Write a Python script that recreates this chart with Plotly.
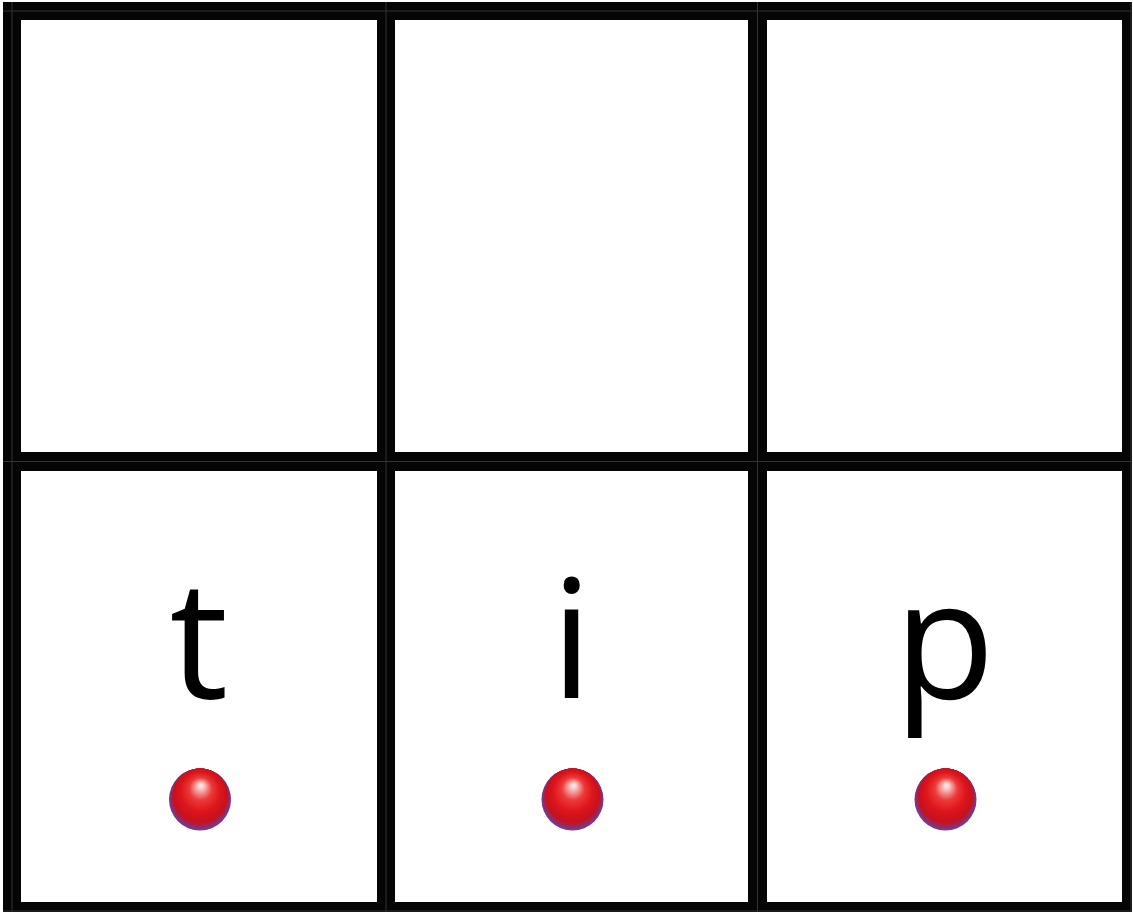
import plotly.graph_objects as go

# ---- data ----
rows = ["top", "bottom"]
columns = ["left", "middle", "right"]
letters_top = ["", "", ""]
letters_bottom = ["t", "i", "p"]
balls_top = [0, 0, 0]
balls_bottom = [1, 1, 1]

# ---- layout geometry (pixels) ----
W, H = 1133, 917
col_edges = [(21, 377), (395, 748), (767, 1122)]
row_edges = [(20, 452), (471, 902)]
v_bars = [(3, 21), (377, 395), (748, 767), (1122, 1132)]
h_bars = [(2, 20), (452, 471), (902, 912)]
v_seams = [12, 386, 757.5, 1131]
h_seams = [11, 461.5, 911]
LETTER_DY = -30     # letter centre offset from cell centre
BALL_DY = 113       # ball centre offset from cell centre
R = 31              # ball radius

col_centers = [(a + b) / 2 for a, b in col_edges]
row_centers = [(a + b) / 2 for a, b in row_edges]

fig = go.Figure()

shapes = []
for x0, x1 in v_bars:
    shapes.append(dict(type="rect", xref="x", yref="y", x0=x0, x1=x1, y0=2, y1=912,
                       fillcolor="#050505", line=dict(width=0), layer="above"))
for y0, y1 in h_bars:
    shapes.append(dict(type="rect", xref="x", yref="y", x0=3, x1=1132, y0=y0, y1=y1,
                       fillcolor="#050505", line=dict(width=0), layer="above"))
for xs in v_seams:
    shapes.append(dict(type="line", xref="x", yref="y", x0=xs, x1=xs, y0=2, y1=912,
                       line=dict(color="#333333", width=1), layer="above"))
for ys in h_seams:
    shapes.append(dict(type="line", xref="x", yref="y", x0=3, x1=1132, y0=ys, y1=ys,
                       line=dict(color="#333333", width=1), layer="above"))

letters = [letters_top, letters_bottom]
balls = [balls_top, balls_bottom]

# letters
lx, ly, lt = [], [], []
for ri, r in enumerate(rows):
    for ci, c in enumerate(columns):
        if letters[ri][ci]:
            lx.append(col_centers[ci])
            ly.append(row_centers[ri] + LETTER_DY)
            lt.append(letters[ri][ci])
fig.add_trace(go.Scatter(x=lx, y=ly, text=lt, mode="text", textposition="middle center",
                         textfont=dict(family="Open Sans", size=165, color="#000000"),
                         hoverinfo="skip"))

# balls: shaded spheres from layered markers
bx, by = [], []
for ri, r in enumerate(rows):
    for ci, c in enumerate(columns):
        if balls[ri][ci]:
            bx.append(col_centers[ci] + 1)
            by.append(row_centers[ri] + BALL_DY)

stops = [(0.00, (112, 62, 150)), (0.05, (150, 42, 100)), (0.12, (198, 18, 30)),
         (0.35, (222, 22, 28)), (0.62, (236, 58, 58)), (0.84, (248, 172, 172)),
         (1.00, (255, 255, 255))]

def ramp(s):
    for (t0, c0), (t1, c1) in zip(stops[:-1], stops[1:]):
        if s <= t1:
            f = (s - t0) / (t1 - t0) if t1 > t0 else 0
            return "rgb(%d,%d,%d)" % tuple(round(a + (b - a) * f) for a, b in zip(c0, c1))
    return "rgb(255,255,255)"

N = 50
R_MIN = 1.5
TANGENT = 6.0      # px of radius shrink during which layers stay tangent at top
HL_DY = -14.0      # highlight offset
for k in range(N):
    t = k / (N - 1)
    r = R * (1 - t) + R_MIN * t
    shrink = R - r
    if shrink <= TANGENT:
        dy = -shrink
    else:
        f = (shrink - TANGENT) / (R - R_MIN - TANGENT)
        dy = -TANGENT + (HL_DY + TANGENT) * f
    s = 1 - r / R
    xs = [x + 1.0 * t for x in bx]
    ys = [y + dy for y in by]
    fig.add_trace(go.Scatter(x=xs, y=ys, mode="markers", hoverinfo="skip",
                             marker=dict(size=2 * r, color=ramp(s), line=dict(width=0))))

fig.update_layout(
    width=W, height=H, autosize=False,
    margin=dict(l=0, r=0, t=0, b=0),
    paper_bgcolor="white", plot_bgcolor="white",
    showlegend=False, shapes=shapes,
    xaxis=dict(range=[0, W], visible=False, fixedrange=True),
    yaxis=dict(range=[H, 0], visible=False, fixedrange=True),
)

fig.write_html("out.html", config={"displayModeBar": False},
               post_script="document.body.style.margin='0px';document.body.style.overflow='hidden';")
